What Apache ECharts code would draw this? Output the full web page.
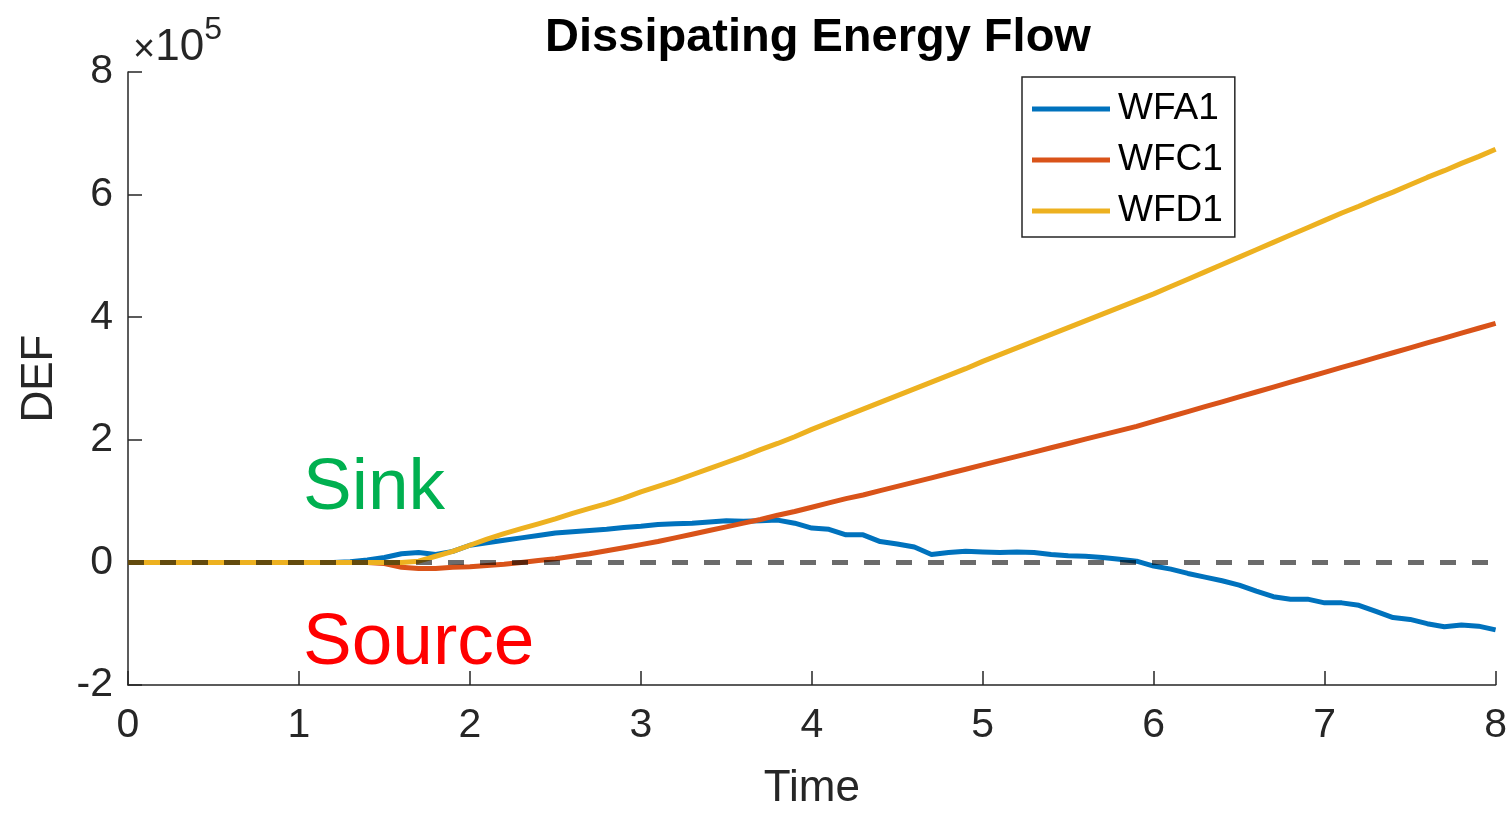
<!DOCTYPE html>
<html>
<head>
<meta charset="utf-8" />
<title>Dissipating Energy Flow</title>
<script src="https://cdn.jsdelivr.net/npm/echarts@6/dist/echarts.min.js"></script>
<style>
  html, body { margin: 0; padding: 0; background: #fff; overflow: hidden; }
  #main { width: 1510px; height: 816px; }
</style>
</head>
<body>
<div id="main"></div>
<script type="text/javascript">
// values in units of 1e5
var time = [0,0.1,0.2,0.3,0.4,0.5,0.6,0.7,0.8,0.9,1,1.1,1.2,1.3,1.4,1.5,1.6,1.7,1.8,1.9,
    2,2.1,2.2,2.3,2.4,2.5,2.6,2.7,2.8,2.9,3,3.1,3.2,3.3,3.4,3.5,3.6,3.7,3.8,3.9,
    4,4.1,4.2,4.3,4.4,4.5,4.6,4.7,4.8,4.9,5,5.1,5.2,5.3,5.4,5.5,5.6,5.7,5.8,5.9,
    6,6.1,6.2,6.3,6.4,6.5,6.6,6.7,6.8,6.9,7,7.1,7.2,7.3,7.4,7.5,7.6,7.7,7.8,7.9,8];

var wfa1 = [0,0,0,0,0,0,0,0,0,0,0,0,0,0.01,0.04,0.08,0.14,0.16,0.13,0.18,
    0.28,0.32,0.36,0.40,0.44,0.48,0.50,0.52,0.54,0.57,0.59,0.62,0.63,0.64,0.66,0.68,0.67,0.68,0.69,0.64,
    0.56,0.54,0.45,0.45,0.34,0.30,0.25,0.13,0.16,0.18,0.17,0.16,0.17,0.16,0.13,0.11,0.10,0.08,0.05,0.02,
    -0.06,-0.11,-0.18,-0.24,-0.30,-0.37,-0.47,-0.56,-0.60,-0.60,-0.66,-0.66,-0.70,-0.80,-0.90,-0.93,-1.00,-1.05,-1.02,-1.04,-1.10];

var wfc1 = [0,0,0,0,0,0,0,0,0,0,0,0,0,0,0,-0.02,-0.08,-0.10,-0.10,-0.08,
    -0.07,-0.05,-0.03,0.00,0.03,0.06,0.10,0.14,0.19,0.24,0.29,0.34,0.40,0.46,0.52,0.58,0.64,0.70,0.77,0.83,
    0.90,0.97,1.04,1.10,1.17,1.24,1.31,1.38,1.45,1.52,1.59,1.66,1.73,1.80,1.87,1.94,2.01,2.08,2.15,2.22,
    2.30,2.38,2.46,2.54,2.62,2.70,2.78,2.86,2.94,3.02,3.10,3.18,3.26,3.34,3.42,3.50,3.58,3.66,3.74,3.82,3.90];

var wfd1 = [0,0,0,0,0,0,0,0,0,0,0,0,0,0,0,0,0,0.02,0.10,0.18,
    0.28,0.38,0.47,0.55,0.63,0.71,0.80,0.88,0.96,1.05,1.15,1.24,1.33,1.43,1.53,1.63,1.73,1.84,1.94,2.05,
    2.17,2.28,2.39,2.50,2.61,2.72,2.83,2.94,3.05,3.16,3.28,3.39,3.50,3.61,3.72,3.83,3.94,4.05,4.16,4.27,
    4.38,4.50,4.62,4.74,4.86,4.98,5.10,5.22,5.34,5.46,5.58,5.70,5.81,5.93,6.04,6.16,6.28,6.39,6.51,6.62,6.74];

var zeroLine = [[0, 0], [8, 0]];

function pairs(ys) {
    var res = [];
    for (var i = 0; i < time.length; i++) {
        res.push([time[i], ys[i]]);
    }
    return res;
}

var font = '"Liberation Sans", Arial, Helvetica, sans-serif';
var myChart = echarts.init(document.getElementById('main'));

var option = {
    animation: false,
    backgroundColor: '#ffffff',
    textStyle: { fontFamily: font },
    title: {
        text: 'Dissipating Energy Flow',
        left: 813,
        textAlign: 'center',
        top: 10,
        textStyle: { fontFamily: font, fontSize: 47, fontWeight: 'bold', color: '#000' }
    },
    legend: {
        orient: 'vertical',
        left: 1022,
        top: 77,
        padding: [12, 12, 6, 10],
        itemGap: 11,
        itemWidth: 78,
        itemHeight: 5,
        icon: 'rect',
        borderColor: '#262626',
        borderWidth: 1.5,
        backgroundColor: '#fff',
        data: ['WFA1', 'WFC1', 'WFD1'],
        textStyle: { fontFamily: font, fontSize: 37, lineHeight: 40, color: '#000', padding: [0, 0, 0, 3] }
    },
    grid: {
        left: 128,
        right: 12,
        top: 72,
        bottom: 123,
        containLabel: false
    },
    xAxis: {
        type: 'value',
        min: 0,
        max: 8,
        interval: 1,
        name: 'Time',
        nameLocation: 'middle',
        nameGap: 82,
        nameTextStyle: { fontFamily: font, fontSize: 44, color: '#262626' },
        axisLine: { show: true, onZero: false, lineStyle: { color: '#262626', width: 1.5 } },
        axisTick: { show: true, inside: true, length: 14, lineStyle: { color: '#262626', width: 1.5 } },
        axisLabel: { fontFamily: font, fontSize: 41, color: '#262626', margin: 20 },
        splitLine: { show: false }
    },
    yAxis: {
        type: 'value',
        min: -2,
        max: 8,
        interval: 2,
        name: 'DEF',
        nameLocation: 'middle',
        nameGap: 66,
        nameTextStyle: { fontFamily: font, fontSize: 44, color: '#262626' },
        axisLine: { show: true, onZero: false, lineStyle: { color: '#262626', width: 1.5 } },
        axisTick: { show: true, inside: true, length: 14, lineStyle: { color: '#262626', width: 1.5 } },
        axisLabel: { fontFamily: font, fontSize: 41, color: '#262626', margin: 15 },
        splitLine: { show: false }
    },
    graphic: [
        {
            type: 'text',
            left: 133,
            top: 14,
            style: {
                text: '{x|×}{b|10}{s|5}',
                rich: {
                    x: { fontFamily: font, fontSize: 38, fill: '#262626', verticalAlign: 'bottom' },
                    b: { fontFamily: font, fontSize: 44, fill: '#262626', verticalAlign: 'bottom' },
                    s: { fontFamily: font, fontSize: 32, fill: '#262626', verticalAlign: 'top', padding: [0, 0, 24, 0] }
                }
            }
        },
        {
            type: 'text',
            left: 303,
            top: 452,
            style: { text: 'Sink', fontFamily: font, fontSize: 73, fill: '#00B050' }
        },
        {
            type: 'text',
            left: 303,
            top: 607,
            style: { text: 'Source', fontFamily: font, fontSize: 73, fill: '#FF0000' }
        }
    ],
    series: [
        {
            name: 'WFA1',
            type: 'line',
            showSymbol: false,
            data: pairs(wfa1),
            lineStyle: { width: 5, color: '#0072BD' },
            itemStyle: { color: '#0072BD' }
        },
        {
            name: 'WFC1',
            type: 'line',
            showSymbol: false,
            data: pairs(wfc1),
            lineStyle: { width: 5, color: '#D95319' },
            itemStyle: { color: '#D95319' }
        },
        {
            name: 'WFD1',
            type: 'line',
            showSymbol: false,
            data: pairs(wfd1),
            lineStyle: { width: 5, color: '#EDB120' },
            itemStyle: { color: '#EDB120' }
        },
        {
            name: 'zero',
            type: 'line',
            showSymbol: false,
            data: zeroLine,
            lineStyle: { width: 5, color: 'rgba(0,0,0,0.58)', type: [16, 16] },
            z: 5
        }
    ]
};
myChart.setOption(option);
</script>
</body>
</html>
